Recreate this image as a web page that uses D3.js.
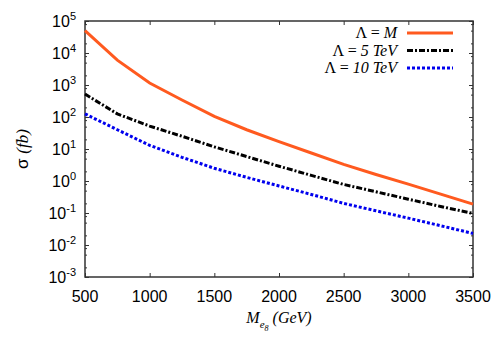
<!DOCTYPE html>
<html>
<head>
<meta charset="utf-8">
<script src="https://cdn.jsdelivr.net/npm/d3@7"></script>
<style>
  body { margin: 0; background: #fff; }
  svg { display: block; }
  .tick line { stroke: #333; }
</style>
</head>
<body>
<div id="chart"></div>
<script>
  // Data
  const mass = [500, 750, 1000, 1250, 1500, 1750, 2000, 2250, 2500, 2750, 3000, 3250, 3500];
  const sigmaM = [5.0e4, 6000, 1150, 340, 105, 40, 17, 7.5, 3.3, 1.6, 0.8, 0.39, 0.19];
  const sigma5 = [520, 125, 52, 25, 11.7, 5.8, 2.9, 1.5, 0.78, 0.46, 0.27, 0.16, 0.097];
  const sigma10 = [125, 40, 13, 5.5, 2.5, 1.3, 0.70, 0.38, 0.20, 0.117, 0.069, 0.04, 0.023];

  const xTicks = [500, 1000, 1500, 2000, 2500, 3000, 3500];
  const yExponents = [-3, -2, -1, 0, 1, 2, 3, 4, 5];
  const yMinor = [2, 5, 8];

  const seriesNames = ["M", "5 TeV", "10 TeV"];

  // Set the dimensions and margins of the graph
  const margin = { top: 21, right: 27, bottom: 73, left: 85 };
  const width = 500 - margin.left - margin.right;
  const height = 350 - margin.top - margin.bottom;

  const svg = d3
    .select("#chart")
    .append("svg")
    .attr("width", 500)
    .attr("height", 350)
    .append("g")
    .attr("transform", `translate(${margin.left},${margin.top})`);

  const x = d3.scaleLinear().domain([500, 3500]).range([0, width]);
  const y = d3.scaleLog().domain([1e-3, 1e5]).range([height, 0]);

  // minor tick values on log axis
  const minorVals = [];
  yExponents.slice(0, -1).forEach(function (e) {
    yMinor.forEach(function (m) {
      minorVals.push(m * Math.pow(10, e));
    });
  });
  const majorVals = yExponents.map((e) => Math.pow(10, e));

  // Axes: ticks pointing inward, mirrored on all sides
  svg.append("g")
    .attr("transform", `translate(0,${height})`)
    .call(d3.axisBottom(x).tickValues(xTicks).tickSize(-4).tickFormat(""));
  svg.append("g")
    .call(d3.axisTop(x).tickValues(xTicks).tickSize(-4).tickFormat(""));
  svg.append("g")
    .call(d3.axisLeft(y).tickValues(majorVals).tickSize(-4).tickFormat(""));
  svg.append("g")
    .call(d3.axisLeft(y).tickValues(minorVals).tickSize(-2).tickFormat(""));
  svg.append("g")
    .attr("transform", `translate(${width},0)`)
    .call(d3.axisRight(y).tickValues(majorVals).tickSize(-4).tickFormat(""));
  svg.append("g")
    .attr("transform", `translate(${width},0)`)
    .call(d3.axisRight(y).tickValues(minorVals).tickSize(-2).tickFormat(""));
  svg.selectAll(".domain").remove();

  // frame
  svg.append("rect")
    .attr("width", width)
    .attr("height", height)
    .attr("fill", "none")
    .attr("stroke", "#333")
    .attr("stroke-width", 1.5);

  // x tick labels
  svg.selectAll(".xlab")
    .data(xTicks)
    .enter()
    .append("text")
    .attr("x", (d) => x(d))
    .attr("y", height + 25)
    .attr("text-anchor", "middle")
    .style("font-family", "Liberation Sans, Arial, sans-serif")
    .style("font-size", "16px")
    .text((d) => d);

  // y tick labels 10^n
  const ylab = svg.selectAll(".ylab")
    .data(yExponents)
    .enter()
    .append("text")
    .attr("x", -9)
    .attr("y", (d) => y(Math.pow(10, d)) + 6)
    .attr("text-anchor", "end")
    .style("font-family", "Liberation Sans, Arial, sans-serif")
    .style("font-size", "16px");
  ylab.append("tspan").text("10");
  ylab.append("tspan")
    .attr("dy", -7)
    .style("font-size", "11px")
    .text((d) => d);

  // axis titles
  const xt = svg.append("text")
    .attr("x", width / 2)
    .attr("y", height + 46)
    .attr("text-anchor", "middle")
    .style("font-family", "Liberation Serif, Times New Roman, serif")
    .style("font-style", "italic")
    .style("font-size", "16px");
  xt.append("tspan").text("M");
  xt.append("tspan").attr("dy", 5).style("font-size", "11px").text("e");
  xt.append("tspan").attr("dy", 3).style("font-size", "8px").text("8");
  xt.append("tspan").attr("dy", -8).text(" (GeV)");

  const yt = svg.append("text")
    .attr("transform", `translate(${-57},${height / 2}) rotate(-90)`)
    .attr("text-anchor", "middle")
    .style("font-size", "17px");
  yt.append("tspan").style("font-family", "Liberation Sans, Arial, sans-serif").text("σ ");
  yt.append("tspan")
    .style("font-family", "Liberation Serif, Times New Roman, serif")
    .style("font-style", "italic")
    .text("(fb)");

  // series
  const series = [
    { name: seriesNames[0], values: sigmaM, color: "#ff5a1f", dash: null },
    { name: seriesNames[1], values: sigma5, color: "#000000", dash: "6,2,2,2" },
    { name: seriesNames[2], values: sigma10, color: "#0000ee", dash: "3,2" },
  ];

  const line = d3.line()
    .x((d) => x(d[0]))
    .y((d) => y(d[1]));

  svg.selectAll(".series")
    .data(series)
    .enter()
    .append("path")
    .attr("class", "series")
    .attr("fill", "none")
    .attr("stroke", (d) => d.color)
    .attr("stroke-width", 3)
    .attr("stroke-dasharray", (d) => d.dash)
    .attr("d", (d) => line(d3.zip(mass, d.values)));

  // legend
  const legend = svg.selectAll(".legend")
    .data(series)
    .enter()
    .append("g")
    .attr("transform", (d, i) => `translate(0,${12 + i * 17.5})`);

  legend.append("line")
    .attr("x1", 322)
    .attr("x2", 368)
    .attr("y1", 0)
    .attr("y2", 0)
    .attr("stroke", (d) => d.color)
    .attr("stroke-width", 3)
    .attr("stroke-dasharray", (d) => d.dash);

  const ltext = legend.append("text")
    .attr("x", 312)
    .attr("y", 5)
    .attr("text-anchor", "end")
    .style("font-family", "Liberation Serif, Times New Roman, serif")
    .style("font-size", "16px");
  ltext.append("tspan").text("Λ = ");
  ltext.append("tspan").style("font-style", "italic").text((d) => d.name);
</script>
</body>
</html>
